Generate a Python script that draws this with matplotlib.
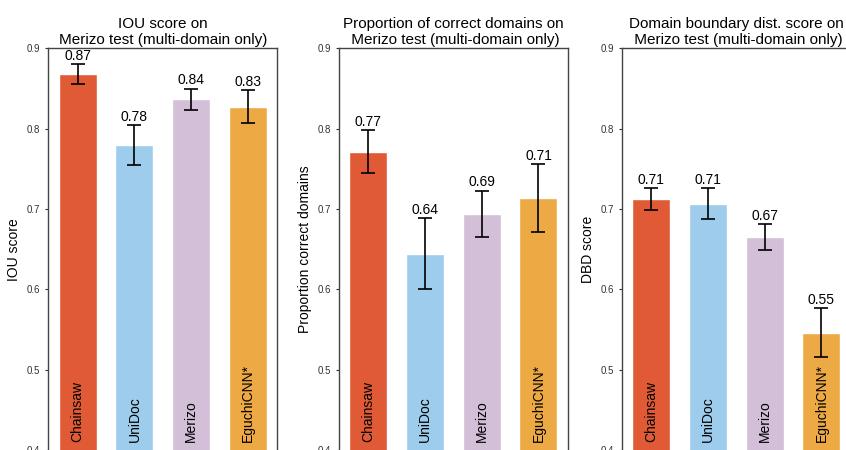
import matplotlib
matplotlib.use('Agg')
import matplotlib.pyplot as plt

plt.rcParams['font.family'] = ['Liberation Sans', 'DejaVu Sans']

methods = ['Chainsaw', 'UniDoc', 'Merizo', 'EguchiCNN*']
colors = ['#DF5A35', '#9DCCEC', '#D3BFD8', '#EDA943']

iou = [0.8675, 0.7795, 0.8366, 0.8275]
iou_err = [0.0125, 0.025, 0.013, 0.0205]

prop = [0.7713, 0.6442, 0.6938, 0.7138]
prop_err = [0.027, 0.044, 0.029, 0.042]

dbd = [0.7125, 0.7066, 0.6654, 0.5458]
dbd_err = [0.0137, 0.0195, 0.016, 0.0304]

titles = ['IOU score on\nMerizo test (multi-domain only)',
          'Proportion of correct domains on\n Merizo test (multi-domain only)',
          'Domain boundary dist. score on\n Merizo test (multi-domain only)']
ylabels = ['IOU score', 'Proportion correct domains', 'DBD score']

fig = plt.figure(figsize=(8.46, 4.5), dpi=100)
lefts = [0.0571, 0.4007, 0.7352]

for k, (vals, errs) in enumerate([(iou, iou_err), (prop, prop_err), (dbd, dbd_err)]):
    ax = fig.add_axes([lefts[k], 0.0, 0.2705, 0.8927])
    x = range(len(methods))
    ax.bar(x, vals, width=0.67, color=colors, edgecolor='white', linewidth=1)
    ax.errorbar(x, vals, yerr=errs, fmt='none', ecolor='black',
                elinewidth=1.2, capsize=5, capthick=1.2)
    for i in x:
        ax.annotate('%.2f' % vals[i], (i, vals[i] + errs[i]), xytext=(0, 1),
                    textcoords='offset points', ha='center', va='bottom',
                    fontsize=10)
        ax.text(i, 0.41, methods[i], rotation=90, ha='center', va='bottom',
                fontsize=10)
    ax.set_ylim(0.4, 0.9)
    ax.set_yticks([0.4, 0.5, 0.6, 0.7, 0.8, 0.9])
    ax.set_xticks([])
    ax.tick_params(axis='y', labelsize=7, length=2.5, colors='#333333')
    ax.set_ylabel(ylabels[k], fontsize=10)
    ax.set_title(titles[k], fontsize=11, pad=3)
    for s in ['left', 'top', 'right']:
        ax.spines[s].set_color('#444444')
        ax.spines[s].set_linewidth(1.0)
    ax.spines['bottom'].set_visible(False)

fig.savefig('out.png', dpi=100)
